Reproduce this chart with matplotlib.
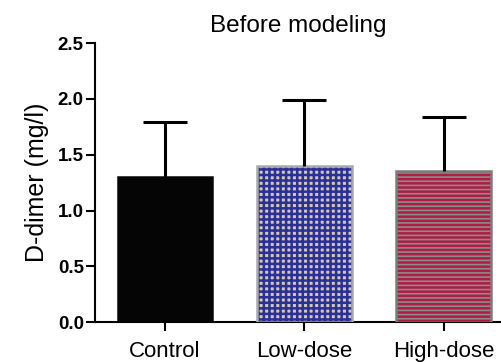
import numpy as np
import matplotlib.pyplot as plt

plt.rcParams['font.family'] = ['Liberation Sans', 'DejaVu Sans']

groups = ['Control', 'Low-dose', 'High-dose']
means = [1.30, 1.40, 1.35]
sd = [0.49, 0.59, 0.49]

# для Low-dose: бежевый фон + синяя сетка = синий с бежевыми квадратиками
fills = ['#050505', '#d0c9b6', '#b01c42']
hatch_cols = ['#050505', '#2b2f98', '#8c8c8c']
edges = ['#050505', '#a9a9a9', '#7c7c7c']
hatches = [None, '+++', '----']
hatch_lw = [1.0, 1.8, 1.2]

fig = plt.figure(figsize=(5.02, 3.62), dpi=100)
ax = fig.add_axes([0.189, 0.110, 0.811, 0.771])

x = np.arange(len(groups))
w = 0.68

for i in range(len(groups)):
    with plt.rc_context({'hatch.linewidth': hatch_lw[i]}):
        ax.bar(x[i], means[i], w, color=fills[i], edgecolor=hatch_cols[i],
               hatch=hatches[i], linewidth=0, zorder=2)
    ax.bar(x[i], means[i], w, fill=False, edgecolor=edges[i],
           linewidth=1.8, zorder=3)

eb = ax.errorbar(x, means, yerr=[np.zeros(3), sd], fmt='none', ecolor='black',
                 elinewidth=2.2, capsize=15.5, capthick=2.2, zorder=4)
eb[1][0].set_visible(False)  # нижний кэп не нужен

ax.set_xlim(-0.504, 2.42)
ax.set_ylim(0, 2.5)
ax.set_yticks([0, 0.5, 1.0, 1.5, 2.0, 2.5])
ax.set_yticklabels(['0.0', '0.5', '1.0', '1.5', '2.0', '2.5'], fontweight='bold')
ax.set_xticks(x)
ax.set_xticklabels(groups, fontsize=16)

ax.spines['top'].set_visible(False)
ax.spines['right'].set_visible(False)
ax.spines['left'].set_linewidth(1.5)
ax.spines['bottom'].set_linewidth(1.5)
ax.tick_params(axis='y', labelsize=13.5, length=6.5, width=1.5, pad=1.5)
ax.tick_params(axis='x', length=6.5, width=1.5, pad=7)

ax.set_ylabel('D-dimer (mg/l)', fontsize=18, labelpad=6)
ax.set_title('Before modeling', fontsize=17.5, pad=8)

fig.savefig('out.png', dpi=100)
